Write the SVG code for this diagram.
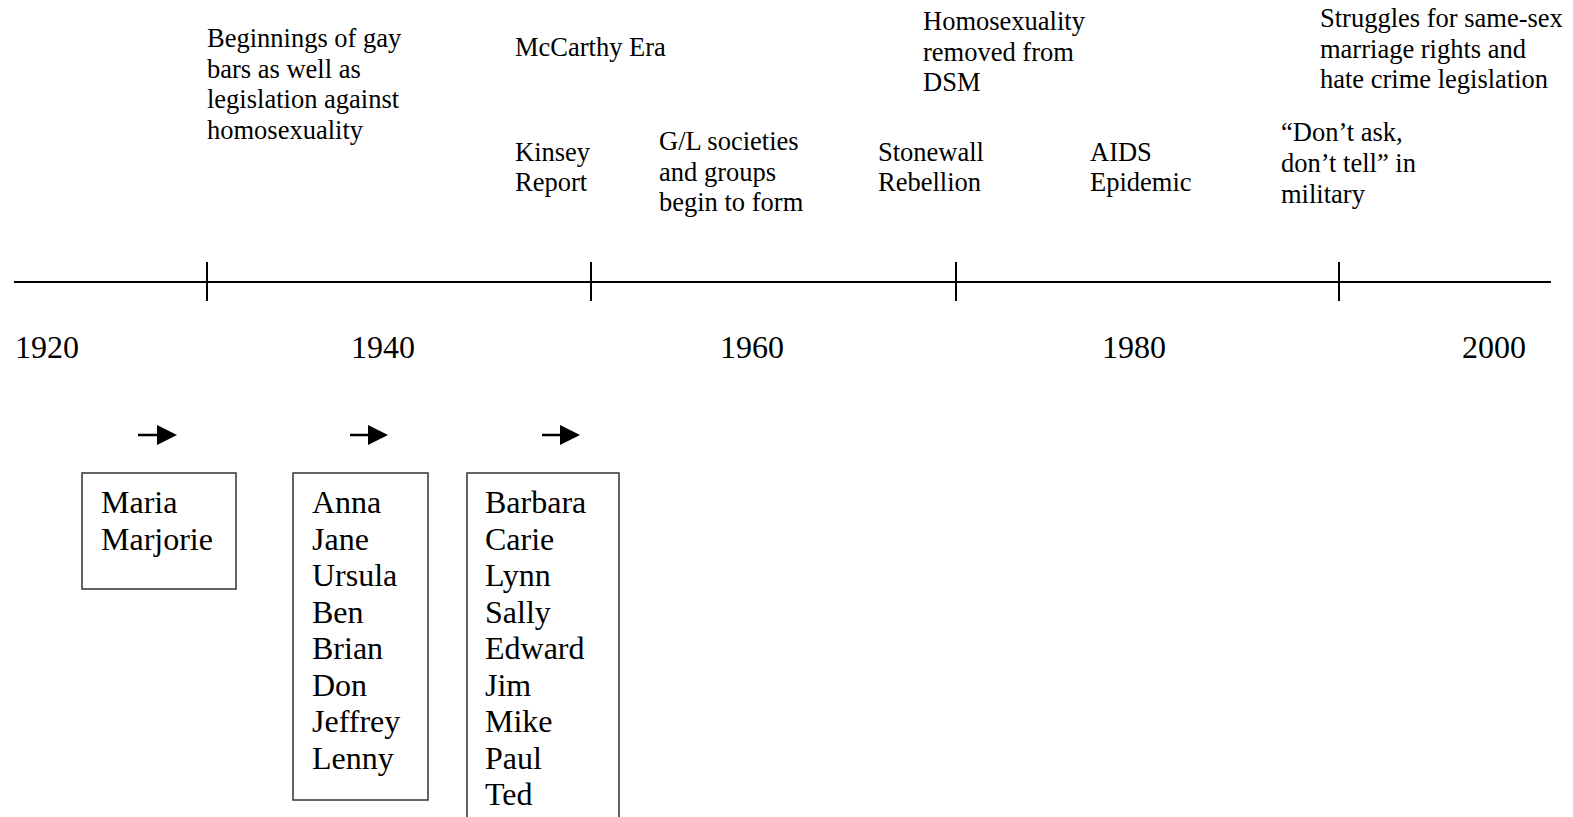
<svg xmlns="http://www.w3.org/2000/svg" width="1573" height="817" viewBox="0 0 1573 817">
<style>
.ev{font-family:"Liberation Serif","Times New Roman",serif;font-size:26.5px;fill:#000}
.yr{font-family:"Liberation Serif","Times New Roman",serif;font-size:32px;fill:#000}
.nm{font-family:"Liberation Serif","Times New Roman",serif;font-size:32px;fill:#000}
.ax{stroke:#000;stroke-width:2;fill:none}
.box{fill:#fff;stroke:#333;stroke-width:1.5}
.arr{stroke:#000;stroke-width:2.5}
</style>
<rect width="1573" height="817" fill="#fff"/>
<g id="connectors">
<line class="ax" x1="14" y1="282" x2="1551" y2="282"/>
<line class="ax" x1="207" y1="262" x2="207" y2="301"/>
<line class="ax" x1="591" y1="262" x2="591" y2="301"/>
<line class="ax" x1="956" y1="262" x2="956" y2="301"/>
<line class="ax" x1="1339" y1="262" x2="1339" y2="301"/>
<g id="arrow1"><line class="arr" x1="138" y1="435" x2="158" y2="435"/><polygon points="157,425 177,435 157,445"/></g>
<g id="arrow2"><line class="arr" x1="350" y1="435" x2="369" y2="435"/><polygon points="368,425 388,435 368,445"/></g>
<g id="arrow3"><line class="arr" x1="542" y1="435" x2="561" y2="435"/><polygon points="560,425 580,435 560,445"/></g>
</g>
<g id="years">
<text class="yr" x="15" y="358">1920</text>
<text class="yr" x="351" y="358">1940</text>
<text class="yr" x="720" y="358">1960</text>
<text class="yr" x="1102" y="358">1980</text>
<text class="yr" x="1462" y="358">2000</text>
</g>
<g id="ev-beginnings"><text class="ev" x="207" y="47">Beginnings of gay</text><text class="ev" x="207" y="77.5">bars as well as</text><text class="ev" x="207" y="108">legislation against</text><text class="ev" x="207" y="138.5">homosexuality</text></g>
<g id="ev-mccarthy"><text class="ev" x="515" y="56">McCarthy Era</text></g>
<g id="ev-kinsey"><text class="ev" x="515" y="161">Kinsey</text><text class="ev" x="515" y="191">Report</text></g>
<g id="ev-gl"><text class="ev" x="659" y="150">G/L societies</text><text class="ev" x="659" y="180.5">and groups</text><text class="ev" x="659" y="211">begin to form</text></g>
<g id="ev-stonewall"><text class="ev" x="878" y="161">Stonewall</text><text class="ev" x="878" y="191">Rebellion</text></g>
<g id="ev-dsm"><text class="ev" x="923" y="30">Homosexuality</text><text class="ev" x="923" y="60.5">removed from</text><text class="ev" x="923" y="91">DSM</text></g>
<g id="ev-aids"><text class="ev" x="1090" y="161">AIDS</text><text class="ev" x="1090" y="191">Epidemic</text></g>
<g id="ev-dadt"><text class="ev" x="1281" y="141">“Don’t ask,</text><text class="ev" x="1281" y="172">don’t tell” in</text><text class="ev" x="1281" y="203">military</text></g>
<g id="ev-struggles"><text class="ev" x="1320" y="27">Struggles for same-sex</text><text class="ev" x="1320" y="57.5">marriage rights and</text><text class="ev" x="1320" y="88">hate crime legislation</text></g>
<g id="box1"><rect class="box" x="82" y="473" width="154" height="116"/><text class="nm" x="101" y="513">Maria</text><text class="nm" x="101" y="549.5">Marjorie</text></g>
<g id="box2"><rect class="box" x="293" y="473" width="135" height="327"/>
<text class="nm" x="312" y="513">Anna</text><text class="nm" x="312" y="549.5">Jane</text><text class="nm" x="312" y="586">Ursula</text><text class="nm" x="312" y="622.5">Ben</text><text class="nm" x="312" y="659">Brian</text><text class="nm" x="312" y="695.5">Don</text><text class="nm" x="312" y="732">Jeffrey</text><text class="nm" x="312" y="768.5">Lenny</text></g>
<g id="box3"><rect class="box" x="467" y="473" width="152" height="400"/>
<text class="nm" x="485" y="513">Barbara</text><text class="nm" x="485" y="549.5">Carie</text><text class="nm" x="485" y="586">Lynn</text><text class="nm" x="485" y="622.5">Sally</text><text class="nm" x="485" y="659">Edward</text><text class="nm" x="485" y="695.5">Jim</text><text class="nm" x="485" y="732">Mike</text><text class="nm" x="485" y="768.5">Paul</text><text class="nm" x="485" y="805">Ted</text></g>
</svg>
